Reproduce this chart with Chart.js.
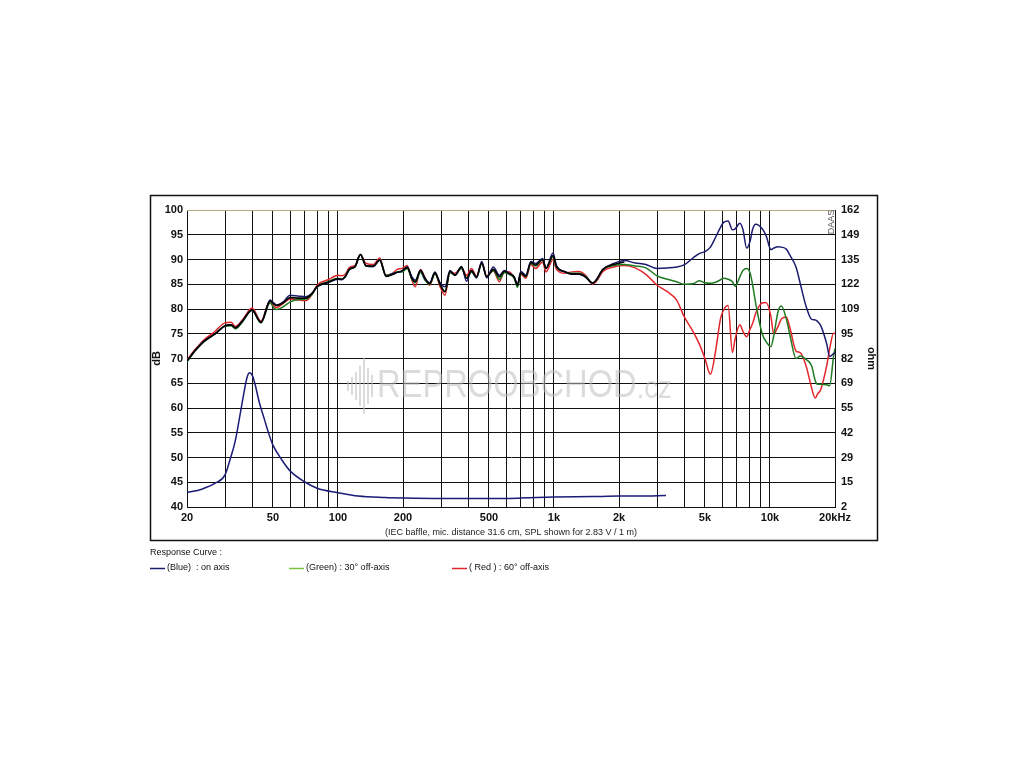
<!DOCTYPE html>
<html>
<head>
<meta charset="utf-8">
<script src="https://cdn.jsdelivr.net/npm/chart.js@4.4.1/dist/chart.umd.min.js"></script>
<style>
  html,body{margin:0;padding:0;background:#fff;}
  #wrap{position:relative;width:1024px;height:768px;}
</style>
</head>
<body>
<div id="wrap"><canvas id="c" width="1024" height="768"></canvas></div>
<script>
// ---------- DATA ----------
const freqSPL = [20,22,24,27,30,32,33.5,36,40,44,48.5,50.5,52,56,60,66,71,76,80,90,100,104,108,113,120,127,135,146,156,167,180,188,198,209,220,228,241,253,266,281,297,313,330,348,373,394,415,438,463,488,524,559,589,621,654,678,702,741,781,823,886,918,990,1026,1126,1211,1303,1402,1509,1566,1685,1890,2118,2376,2664,3000,3350,3700,4000,4400,4700,5000,5300,5600,5900,6100,6400,6700,6900,7250,7500,7800,8100,8300,8600,9200,9600,10100,10400,10900,11300,11900,12400,13200,13800,14700,15600,16200,16600,17200,18300,18900,19700,20000];

const splBlue = [69.5,71.8,73.5,75.0,76.6,76.8,76.2,77.5,79.8,77.3,81.8,81.2,80.8,81.5,82.8,82.6,82.5,83.2,84.5,85.3,86.0,85.9,86.5,88.0,88.6,91.0,88.7,88.6,89.9,86.6,87.2,87.4,87.7,88.5,86.5,85.8,87.8,86.0,85.3,87.5,85.3,84.5,87.8,86.8,88.6,85.6,87.8,86.3,89.6,86.3,88.5,86.8,87.8,87.2,86.5,85.0,87.6,86.8,89.6,89.2,90.2,88.2,91.3,88.8,87.5,87.0,87.0,86.4,85.2,85.8,88.0,89.2,89.8,89.3,89.0,88.2,88.3,88.5,88.9,90.3,91.2,91.6,92.5,94.5,96.5,97.5,97.8,96.0,96.2,97.3,96.0,92.3,93.8,96.0,97.1,96.2,94.8,92.0,92.3,92.6,92.5,92.1,90.8,88.5,85.2,80.5,77.9,77.8,77.5,76.6,73.0,70.4,71.0,71.2];

const splGreen = [69.3,71.7,73.4,75.0,76.5,76.6,76.0,77.3,79.7,77.2,81.2,80.2,79.9,80.5,81.4,81.9,82.0,83.0,84.5,85.5,86.2,86.0,86.6,88.1,88.5,91.0,88.7,88.6,90.0,86.8,87.2,87.5,87.5,88.2,86.0,85.3,87.4,85.8,85.0,87.0,85.0,83.5,87.3,86.9,88.2,86.3,87.5,86.3,89.2,86.5,87.8,86.0,87.3,87.0,86.2,84.4,87.2,86.5,89.2,88.7,90.0,88.3,90.5,88.5,87.5,87.2,87.2,86.6,85.3,85.7,88.0,88.8,89.0,88.7,88.3,86.7,86.0,85.5,85.0,85.1,85.7,85.3,85.2,85.4,85.9,86.2,86.0,85.5,84.6,86.5,87.8,88.2,87.2,85.0,81.0,75.0,73.4,72.4,74.5,79.5,80.6,78.0,74.5,70.0,70.5,69.8,68.5,65.5,64.8,64.8,64.7,64.5,70.5,72.0];

const splRed = [69.7,72.0,73.8,75.5,77.2,77.3,76.5,77.7,80.2,77.6,81.6,80.5,80.3,81.2,82.0,81.8,81.7,83.0,84.8,85.9,86.8,86.7,87.0,88.4,88.8,91.0,89.2,89.0,90.3,86.8,87.3,88.0,88.2,88.8,85.8,84.5,88.0,86.3,84.8,87.3,84.5,82.8,87.6,87.2,88.4,86.8,88.2,86.6,89.5,86.7,87.7,85.5,87.6,87.5,86.3,84.8,87.0,86.2,89.0,88.2,89.5,87.5,90.0,88.0,87.2,87.5,87.6,86.8,85.0,85.5,87.6,88.5,88.8,88.3,87.0,84.8,83.5,81.8,78.5,75.5,73.0,70.0,66.8,71.5,78.0,79.8,80.7,71.2,74.0,76.8,75.5,74.4,76.0,77.0,79.2,81.2,81.3,78.5,75.0,76.5,78.0,78.4,76.0,71.5,71.2,68.5,64.0,62.0,62.8,63.8,68.5,72.0,75.1,75.0];

const splBlack = [69.5,71.8,73.5,75.0,76.6,76.8,76.2,77.5,79.8,77.3,81.6,81.0,80.7,81.3,82.3,82.2,82.2,83.2,84.5,85.4,86.1,86.0,86.5,88.0,88.6,91.0,88.7,88.7,89.9,86.6,87.0,87.4,87.7,88.4,86.2,85.5,87.8,86.2,85.1,87.3,85.0,83.5,87.6,86.8,88.5,86.2,87.7,86.5,89.3,86.5,88.0,86.5,87.6,87.1,86.5,84.8,87.3,86.6,89.4,88.9,90.0,88.2,90.8,88.6,87.5,87.1,87.1,86.5,85.2,85.8,88.0,89.0,89.5];

const freqImp = [20,23.4,27,30,31.6,33.4,35.2,36.5,37.9,39.0,40.2,41.2,43.3,45.8,47.5,50,55,60,70,80,100,124,165,200,300,500,700,1000,1500,2000,2500,3300];
const impedance = [42.9,43.6,44.8,46.5,49.5,53.2,58.6,62.5,66.1,67.1,66.5,65.0,61.0,57.5,55.2,52.5,49.5,47.3,45.1,43.8,42.9,42.2,41.9,41.8,41.7,41.7,41.8,42.0,42.1,42.2,42.2,42.3];

const xGrid = [20,30,40,50,60,70,80,90,100,200,300,400,500,600,700,800,900,1000,2000,3000,4000,5000,6000,7000,8000,9000,10000,20000];
const xLabelValues = [20,50,100,200,500,1000,2000,5000,10000,20000];
const xLabelTexts = ['20','50','100','200','500','1k','2k','5k','10k','20kHz'];
const ohmLabels = ['2','15','29','42','55','69','82','95','109','122','135','149','162'];

// ---------- BUILD ----------
const pts = (fx, ys) => fx.map((f, i) => ({x: f, y: ys[i] === undefined ? null : ys[i]})).filter(p => p.y !== null);
const FONT = "'Liberation Sans', Arial, sans-serif";

const decor = {
  id: 'decor',
  beforeDatasetsDraw(chart) {
    const ctx = chart.ctx;
    const a = chart.chartArea;
    ctx.save();
    // watermark
    ctx.fillStyle = 'rgba(190,190,190,0.55)';
    const bars = [[347,5],[351,9],[355,14],[359,20],[363,28],[367,18],[371,11]];
    bars.forEach(b => ctx.fillRect(b[0], 386 - b[1], 2, b[1] * 2));
    ctx.save();
    ctx.translate(377, 387);
    ctx.scale(0.86, 1);
    ctx.font = "38px " + FONT;
    ctx.textBaseline = 'middle';
    ctx.fillText('REPROOBCHOD', 0, 0);
    const w = ctx.measureText('REPROOBCHOD').width;
    ctx.font = "32px " + FONT;
    ctx.fillText('.cz', w, 2);
    ctx.restore();
    // top border (tan)
    ctx.strokeStyle = '#b5a887';
    ctx.lineWidth = 1.2;
    ctx.beginPath(); ctx.moveTo(a.left, a.top + 0.5); ctx.lineTo(a.right, a.top + 0.5); ctx.stroke();
    ctx.restore();
  },
  afterDraw(chart) {
    const ctx = chart.ctx;
    ctx.save();
    // outer frame
    ctx.strokeStyle = '#111';
    ctx.lineWidth = 1.5;
    ctx.strokeRect(150.5, 195.5, 727, 345);
    // DAAS
    ctx.save();
    ctx.translate(832, 222);
    ctx.rotate(-Math.PI / 2);
    ctx.fillStyle = '#555';
    ctx.font = "9px " + FONT;
    ctx.textAlign = 'center';
    ctx.textBaseline = 'middle';
    ctx.fillText('DAAS', 0, 0);
    ctx.restore();
    // legend
    ctx.fillStyle = '#111';
    ctx.font = "9px " + FONT;
    ctx.textBaseline = 'middle';
    ctx.fillText('Response Curve :', 150, 553);
    const items = [
      {x: 150, c: '#1b1b6f', t: '(Blue)  : on axis'},
      {x: 289, c: '#7cc242', t: '(Green) : 30° off-axis'},
      {x: 452, c: '#e3262c', t: '( Red ) : 60° off-axis'}
    ];
    items.forEach(it => {
      ctx.strokeStyle = it.c; ctx.lineWidth = 1.5;
      ctx.beginPath(); ctx.moveTo(it.x, 568.5); ctx.lineTo(it.x + 15, 568.5); ctx.stroke();
      ctx.fillStyle = '#111';
      ctx.fillText(it.t, it.x + 17, 568);
    });
    ctx.restore();
  }
};

const ds = (label, data, color, order, w) => ({
  label, data, borderColor: color, backgroundColor: color, borderWidth: w || 1.5,
  pointRadius: 0, fill: false, cubicInterpolationMode: 'monotone', order, spanGaps: true
});

new Chart(document.getElementById('c'), {
  type: 'line',
  data: {
    datasets: [
      ds('Black', pts(freqSPL, splBlack), '#000000', 0, 1.6),
      ds('Blue', pts(freqSPL, splBlue), '#1b1b6f', 1),
      ds('Green', pts(freqSPL, splGreen), '#1f7a22', 2),
      ds('Red', pts(freqSPL, splRed), '#e3262c', 3),
      ds('Impedance', pts(freqImp, impedance), '#1b1b78', 4)
    ]
  },
  options: {
    responsive: false,
    animation: false,
    events: [],
    layout: {padding: {left: 150, right: 146, top: 210, bottom: 228}},
    plugins: {legend: {display: false}, tooltip: {enabled: false}},
    scales: {
      x: {
        type: 'logarithmic', min: 20, max: 20000,
        afterBuildTicks: s => { s.ticks = xGrid.map(v => ({value: v})); },
        afterFit: s => { s.height = 33; },
        ticks: {
          autoSkip: false, maxRotation: 0, padding: 4, color: '#111',
          font: {family: FONT, size: 11, weight: 'bold'},
          callback: (v) => { const i = xLabelValues.indexOf(v); return i >= 0 ? xLabelTexts[i] : ''; }
        },
        grid: {color: '#111', lineWidth: 1, drawTicks: false},
        border: {color: '#111', width: 1},
        title: {display: true, text: '(IEC baffle, mic. distance 31.6 cm, SPL shown for 2.83 V / 1 m)',
          color: '#222', font: {family: FONT, size: 9}, padding: {top: 0, bottom: 2}}
      },
      y: {
        type: 'linear', position: 'left', min: 40, max: 100,
        afterFit: s => { s.width = 37; },
        ticks: {stepSize: 5, padding: 4, color: '#111', font: {family: FONT, size: 11, weight: 'bold'}},
        grid: {color: '#111', lineWidth: 1, drawTicks: false},
        border: {color: '#111', width: 1},
        title: {display: true, text: 'dB', color: '#111', font: {family: FONT, size: 11, weight: 'bold'}, padding: 0}
      },
      y2: {
        type: 'linear', position: 'right', min: 40, max: 100,
        afterFit: s => { s.width = 43; },
        ticks: {stepSize: 5, padding: 6, color: '#111', font: {family: FONT, size: 11, weight: 'bold'},
          callback: (v) => ohmLabels[Math.round((v - 40) / 5)]},
        grid: {drawOnChartArea: false, drawTicks: false},
        border: {color: '#111', width: 1},
        title: {display: true, text: 'ohm', color: '#111', font: {family: FONT, size: 11, weight: 'bold'}, padding: 0}
      }
    }
  },
  plugins: [decor]
});
</script>
</body>
</html>
